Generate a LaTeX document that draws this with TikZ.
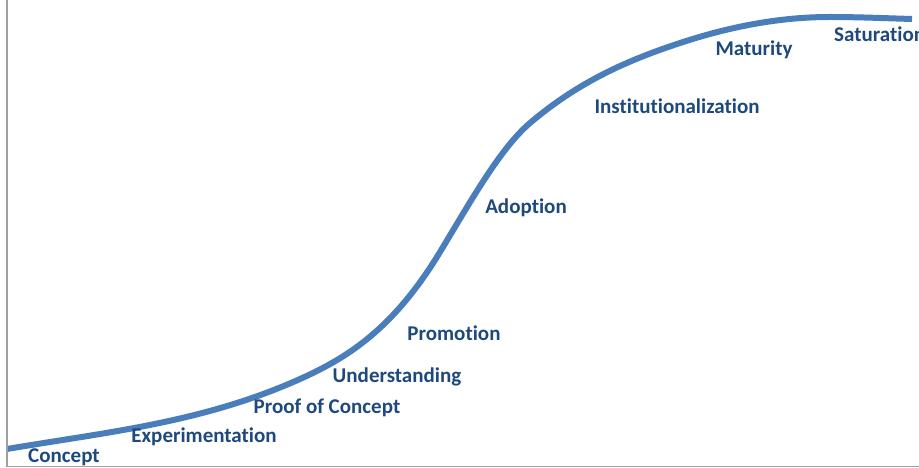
\documentclass[tikz,border=0pt]{standalone}
\usepackage{fontspec}
\setmainfont{Carlito}[Ligatures=NoCommon]
\definecolor{curveblue}{HTML}{4A7EBB}
\definecolor{labelblue}{HTML}{1F497D}
\definecolor{axisgray}{HTML}{A0A0A0}
\begin{document}
\begin{tikzpicture}[x=1bp,y=-1bp,
  stage/.style={font=\bfseries\fontsize{21bp}{23bp}\selectfont, text=labelblue, inner sep=0pt}]
\useasboundingbox (0,0) rectangle (919,468);
\fill[white] (0,0) rectangle (919,468);
\coordinate (p0) at (7,449);
\coordinate (p1) at (300,379);
\coordinate (p2) at (440,252);
\coordinate (p3) at (530,123);
\coordinate (p4) at (680,43);
\coordinate (p5) at (830,17);
\coordinate (p6) at (912,19);
\draw[curveblue, line width=6bp, line cap=butt]
  (p0) .. controls (105,432.3) and (202,423) .. (p1)
       .. controls (347,357.9) and (393,329.6) .. (p2)
       .. controls (470,202.5) and (500,148.5) .. (p3)
       .. controls (580,80.5) and (630,59.5) .. (p4)
       .. controls (730,26.5) and (780,17) .. (p5)
       .. controls (857,17) and (885,18.2) .. (p6);
\draw[axisgray, line width=1.5bp] (7,0) -- (7,466.5) -- (919,466.5);
\node[stage] (concept) at (64,457) {Concept};
\node[stage] (exp) at (204,437) {Experimentation};
\node[stage] (poc) at (327,408) {Proof of Concept};
\node[stage] (und) at (397,377) {Understanding};
\node[stage] (prom) at (454,333) {Promotion};
\node[stage] (adopt) at (526,208) {Adoption};
\node[stage] (inst) at (677,106) {Institutionalization};
\node[stage] (mat) at (754,50) {Maturity};
\node[stage, anchor=west] (sat) at (834,34) {Saturation};
\end{tikzpicture}
\end{document}
